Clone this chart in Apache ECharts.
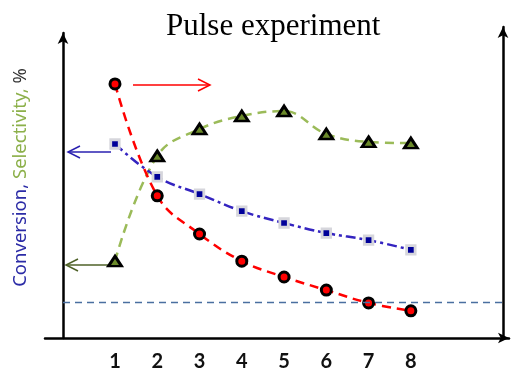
<!DOCTYPE html>
<html>
<head>
<meta charset="utf-8">
<script src="https://cdn.jsdelivr.net/npm/echarts@6/dist/echarts.min.js"></script>
<style>
  html, body { margin: 0; padding: 0; background: #fff; }
  #main { width: 514px; height: 375px; }
</style>
</head>
<body>
<div id="main"></div>
<script>
// pulse number
var pulses = [1, 2, 3, 4, 5, 6, 7, 8];
var xLabels = ['1', '2', '3', '4', '5', '6', '7', '8'];
// left axis, %
var conversion = [63.6, 52.8, 47.2, 41.6, 37.7, 34.4, 32.1, 28.9];
var selectivity = [25.2, 59.7, 68.5, 72.8, 74.4, 66.9, 64.3, 63.9];
// right axis
var rightSeries = [83.3, 46.6, 34.1, 25.2, 20.0, 15.7, 11.5, 8.9];
var baseline = 11.8;

function pairs(ys) {
    var out = [];
    for (var i = 0; i < pulses.length; i++) out.push([pulses[i], ys[i]]);
    return out;
}

var myChart = echarts.init(document.getElementById('main'));

var axisLineStyle = { color: '#000', width: 2.5 };

var option = {
    animation: false,
    title: {
        text: 'Pulse experiment',
        left: 161,
        top: 6,
        textStyle: { fontFamily: 'Liberation Serif', fontSize: 31, fontWeight: 'normal', color: '#000' }
    },
    grid: [
        { left: 63, right: 11, top: 33, bottom: 37 },   // data
        { left: 45, right: 5, top: 33, bottom: 37 },    // x axis line
        { left: 63, right: 11, top: 27, bottom: 37 }    // right axis line
    ],
    xAxis: [
        {
            gridIndex: 0, type: 'value', min: -0.23, max: 10.18,
            axisLine: { show: false }, axisTick: { show: false }, splitLine: { show: false },
            axisLabel: {
                customValues: pulses,
                formatter: function (v) { return xLabels[pulses.indexOf(v)] || ''; },
                margin: 14,
                fontFamily: 'Lato', fontWeight: 'bold', fontSize: 20, color: '#111'
            }
        },
        {
            gridIndex: 1, type: 'value', min: 0, max: 1,
            axisLine: { show: true, lineStyle: axisLineStyle, symbol: ['none', 'arrow'], symbolSize: [8, 11] },
            axisTick: { show: false }, axisLabel: { show: false }, splitLine: { show: false }
        },
        {
            gridIndex: 2, type: 'value', min: 0, max: 1, show: false
        }
    ],
    yAxis: [
        {
            gridIndex: 0, type: 'value', min: 0, max: 100, position: 'left',
            axisLine: { show: true, onZero: false, lineStyle: axisLineStyle, symbol: ['none', 'arrow'], symbolSize: [8, 11] },
            axisTick: { show: false }, axisLabel: { show: false }, splitLine: { show: false },
            name: '{b|Conversion, }{g|Selectivity, }{k|%}',
            nameLocation: 'middle',
            nameRotate: 90,
            nameGap: 33,
            nameTextStyle: {
                fontFamily: 'Noto Sans', fontSize: 18.5,
                padding: [0, 0, 0, 16],
                rich: {
                    b: { color: '#2b2ba6', fontFamily: 'Noto Sans', fontSize: 18.5 },
                    g: { color: '#8cb04a', fontFamily: 'Noto Sans', fontSize: 18.5 },
                    k: { color: '#333', fontFamily: 'Noto Sans', fontSize: 18.5 }
                }
            }
        },
        {
            gridIndex: 0, type: 'value', min: 0, max: 100, position: 'right',
            axisLine: { show: false }, axisTick: { show: false }, axisLabel: { show: false }, splitLine: { show: false }
        },
        {
            gridIndex: 1, type: 'value', min: 0, max: 1, show: false
        },
        {
            gridIndex: 2, type: 'value', min: 0, max: 1, position: 'right',
            axisLine: { show: true, onZero: false, lineStyle: axisLineStyle, symbol: ['none', 'arrow'], symbolSize: [8, 11] },
            axisTick: { show: false }, axisLabel: { show: false }, splitLine: { show: false }
        }
    ],
    series: [
        {
            name: 'Selectivity',
            type: 'line',
            xAxisIndex: 0, yAxisIndex: 0,
            data: pairs(selectivity),
            smooth: 0.4,
            symbol: 'triangle',
            symbolSize: [13, 10],
            lineStyle: { color: '#9bbb59', width: 2.5, type: [9, 6] },
            itemStyle: { color: '#6b8a2a', borderColor: '#000', borderWidth: 2.8 },
            z: 2
        },
        {
            name: 'Conversion',
            type: 'line',
            xAxisIndex: 0, yAxisIndex: 0,
            data: pairs(conversion),
            smooth: 0.4,
            symbol: 'rect',
            symbolSize: 8.5,
            lineStyle: { color: '#3424c0', width: 2.5, type: [10, 4, 3, 4] },
            itemStyle: { color: '#000099', borderColor: '#d6d6dc', borderWidth: 2.8 },
            z: 3
        },
        {
            name: 'Right axis',
            type: 'line',
            xAxisIndex: 0, yAxisIndex: 1,
            data: pairs(rightSeries),
            smooth: 0.4,
            symbol: 'circle',
            symbolSize: 10,
            lineStyle: { color: '#ff0000', width: 2.5, type: [9, 6] },
            itemStyle: { color: '#ff0000', borderColor: '#000', borderWidth: 3 },
            markLine: {
                silent: true,
                symbol: 'none',
                label: { show: false },
                lineStyle: { color: '#4a6fa0', width: 1.3, type: [7, 5] },
                data: [{ yAxis: baseline }]
            },
            z: 4
        }
    ],
    graphic: [
        // red arrow -> right axis
        { type: 'polyline', shape: { points: [[133, 85], [210, 85]] }, style: { stroke: '#ff0000', lineWidth: 1.5 } },
        { type: 'polyline', shape: { points: [[198, 79], [210, 85], [198, 91]] }, style: { stroke: '#ff0000', lineWidth: 1.5, fill: null } },
        // blue arrow -> left axis
        { type: 'polyline', shape: { points: [[111, 152], [68, 152]] }, style: { stroke: '#2a20b0', lineWidth: 1.5 } },
        { type: 'polyline', shape: { points: [[80, 146], [68, 152], [80, 158]] }, style: { stroke: '#2a20b0', lineWidth: 1.5, fill: null } },
        // green arrow -> left axis
        { type: 'polyline', shape: { points: [[110, 265], [66, 265]] }, style: { stroke: '#4f6228', lineWidth: 1.5 } },
        { type: 'polyline', shape: { points: [[78, 259], [66, 265], [78, 271]] }, style: { stroke: '#4f6228', lineWidth: 1.5, fill: null } }
    ]
};

myChart.setOption(option);
</script>
</body>
</html>
